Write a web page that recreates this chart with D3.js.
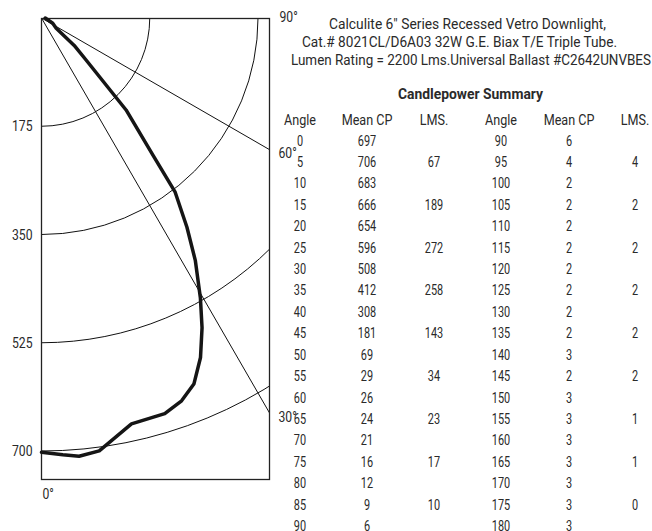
<!DOCTYPE html>
<html>
<head>
<meta charset="utf-8">
<script src="https://cdn.jsdelivr.net/npm/d3@7"></script>
<style>
  body { margin: 0; background: #fff; }
  text { font-family: Roboto, "Liberation Sans", sans-serif; fill: #2a2a2a; }
</style>
</head>
<body>
<script>
(function (d3) {
  "use strict";

  /***** Data *****/
  var titleLines = [
    "Calculite 6\" Series Recessed Vetro Downlight,",
    "Cat.# 8021CL/D6A03 32W G.E. Biax T/E Triple Tube.",
    "Lumen Rating = 2200 Lms.Universal Ballast #C2642UNVBES"
  ];
  var anglesA = [0, 5, 10, 15, 20, 25, 30, 35, 40, 45, 50, 55, 60, 65, 70, 75, 80, 85, 90];
  var meanCpA = [697, 706, 683, 666, 654, 596, 508, 412, 308, 181, 69, 29, 26, 24, 21, 16, 12, 9, 6];
  var lmsA = [null, 67, null, 189, null, 272, null, 258, null, 143, null, 34, null, 23, null, 17, null, 10, null];
  var anglesB = [90, 95, 100, 105, 110, 115, 120, 125, 130, 135, 140, 145, 150, 155, 160, 165, 170, 175, 180];
  var meanCpB = [6, 4, 2, 2, 2, 2, 2, 2, 2, 2, 3, 2, 3, 3, 3, 3, 3, 3, 3];
  var lmsB = [null, 4, null, 2, null, 2, null, 2, null, 2, null, 2, null, 1, null, 1, null, 0, null];
  // plotted curve (angle in degrees, candela)
  var curveAngles = [0, 2.8, 4.9, 7.6, 12.5, 17.3, 20.1, 22.6, 25.1, 27.4, 29.6, 32.4, 34.8, 37.5, 39.1, 42.6, 46.7, 50, 55, 65, 90];
  var curveCp = [702, 707, 711, 706, 672, 670, 659, 641, 606, 564, 520, 464, 412, 355, 286, 202, 99, 69, 29, 20, 6];
  var radiusTicks = [175, 350, 525, 700];
  var angleTicks = [30, 60, 90];
  var angleLabels = ["0°", "30°", "60°", "90°"];
  var headers = ["Angle", "Mean CP", "LMS.", "Angle", "Mean CP", "LMS."];

  /***** Configuration *****/
  var width = 652, height = 531;
  var origin = { x: 41.5, y: 18 };
  var box = { w: 228, h: 461 };
  var sx = 0.78; // condensed look

  var svg = d3.select("body").append("svg")
      .attr("width", width)
      .attr("height", height);

  function put(sel, x, y, s) {
    return sel.attr("transform", "translate(" + x + "," + y + ") scale(" + s + ",1)");
  }

  /***** Scales *****/
  var rScale = d3.scaleLinear().domain([0, 700]).range([0, 433]);
  // 0° points down, 90° points right
  var toRad = function (deg) { return Math.PI - deg * Math.PI / 180; };

  var plot = svg.append("g")
      .attr("transform", "translate(" + origin.x + "," + origin.y + ")");

  plot.append("clipPath").attr("id", "boxClip")
    .append("rect").attr("x", 0).attr("y", 0).attr("width", box.w).attr("height", box.h);

  var grid = plot.append("g").attr("clip-path", "url(#boxClip)");

  grid.selectAll("circle.ring").data(radiusTicks).enter()
    .append("circle")
      .attr("class", "ring")
      .attr("r", function (d) { return rScale(d); })
      .attr("fill", "none")
      .attr("stroke", "#111")
      .attr("stroke-width", 1);

  grid.selectAll("line.ray").data(angleTicks).enter()
    .append("line")
      .attr("class", "ray")
      .attr("x1", 0).attr("y1", 0)
      .attr("x2", function (d) { return Math.sin(toRad(d)) * 1000; })
      .attr("y2", function (d) { return -Math.cos(toRad(d)) * 1000; })
      .attr("stroke", "#111")
      .attr("stroke-width", 1);

  plot.append("rect")
      .attr("x", 0).attr("y", 0.5)
      .attr("width", box.w).attr("height", box.h)
      .attr("fill", "none")
      .attr("stroke", "#222")
      .attr("stroke-width", 1.3);

  /***** Candlepower curve *****/
  var curveData = curveAngles.map(function (a, i) { return { a: a, cp: curveCp[i] }; });
  var line = d3.lineRadial()
      .angle(function (d) { return toRad(d.a); })
      .radius(function (d) { return rScale(d.cp); });

  plot.append("path")
      .datum(curveData)
      .attr("d", line)
      .attr("fill", "none")
      .attr("stroke", "#151515")
      .attr("stroke-width", 3.5)
      .attr("stroke-linejoin", "round")
      .attr("stroke-linecap", "round");

  /***** Axis labels *****/
  plot.selectAll("text.rlab").data(radiusTicks).enter()
    .append("text")
      .attr("class", "rlab")
      .attr("dy", "0.36em")
      .attr("text-anchor", "end")
      .attr("font-size", 14)
      .each(function (d) { put(d3.select(this), -9, rScale(d), 0.87); })
      .text(function (d) { return d; });

  var angLabPos = [[1, 476], [237, 399], [237, 135], [238, -1]];
  angleLabels.forEach(function (t, i) {
    put(plot.append("text"), angLabPos[i][0], angLabPos[i][1], 0.87)
      .attr("dy", "0.36em")
      .attr("font-size", 14)
      .text(t);
  });

  /***** Title *****/
  var titleX = [329, 302, 291], titleW = [277, 315, 360];
  svg.selectAll("text.title").data(titleLines).enter()
    .append("text")
      .attr("class", "title")
      .attr("x", function (d, i) { return titleX[i]; })
      .attr("y", function (d, i) { return 24 + i * 17.7; })
      .attr("dy", "0.36em")
      .attr("font-size", 15)
      .attr("textLength", function (d, i) { return titleW[i]; })
      .attr("lengthAdjust", "spacingAndGlyphs")
      .text(function (d) { return d; });

  svg.append("text")
      .attr("x", 398).attr("y", 94)
      .attr("dy", "0.36em")
      .attr("font-size", 14.5)
      .attr("font-weight", "bold")
      .attr("textLength", 145)
      .attr("lengthAdjust", "spacingAndGlyphs")
      .text("Candlepower Summary");

  /***** Table *****/
  var colX = [300, 367, 434, 501, 569, 635];
  var rowY = d3.scalePoint().domain(d3.range(anglesA.length)).range([140.5, 526]);

  svg.selectAll("text.head").data(headers).enter()
    .append("text")
      .attr("class", "head")
      .attr("dy", "0.36em")
      .attr("text-anchor", "middle")
      .attr("font-size", 14)
      .each(function (d, i) { put(d3.select(this), colX[i], 120, 0.9); })
      .text(function (d) { return d; });

  var cols = [anglesA, meanCpA, lmsA, anglesB, meanCpB, lmsB];
  cols.forEach(function (col, ci) {
    svg.append("g").selectAll("text").data(col).enter()
      .append("text")
        .attr("dy", "0.36em")
        .attr("text-anchor", "middle")
        .attr("font-size", 14)
        .each(function (d, i) { put(d3.select(this), colX[ci], rowY(i), sx); })
        .text(function (d) { return d === null ? "" : d; });
  });

})(d3);
</script>
</body>
</html>
